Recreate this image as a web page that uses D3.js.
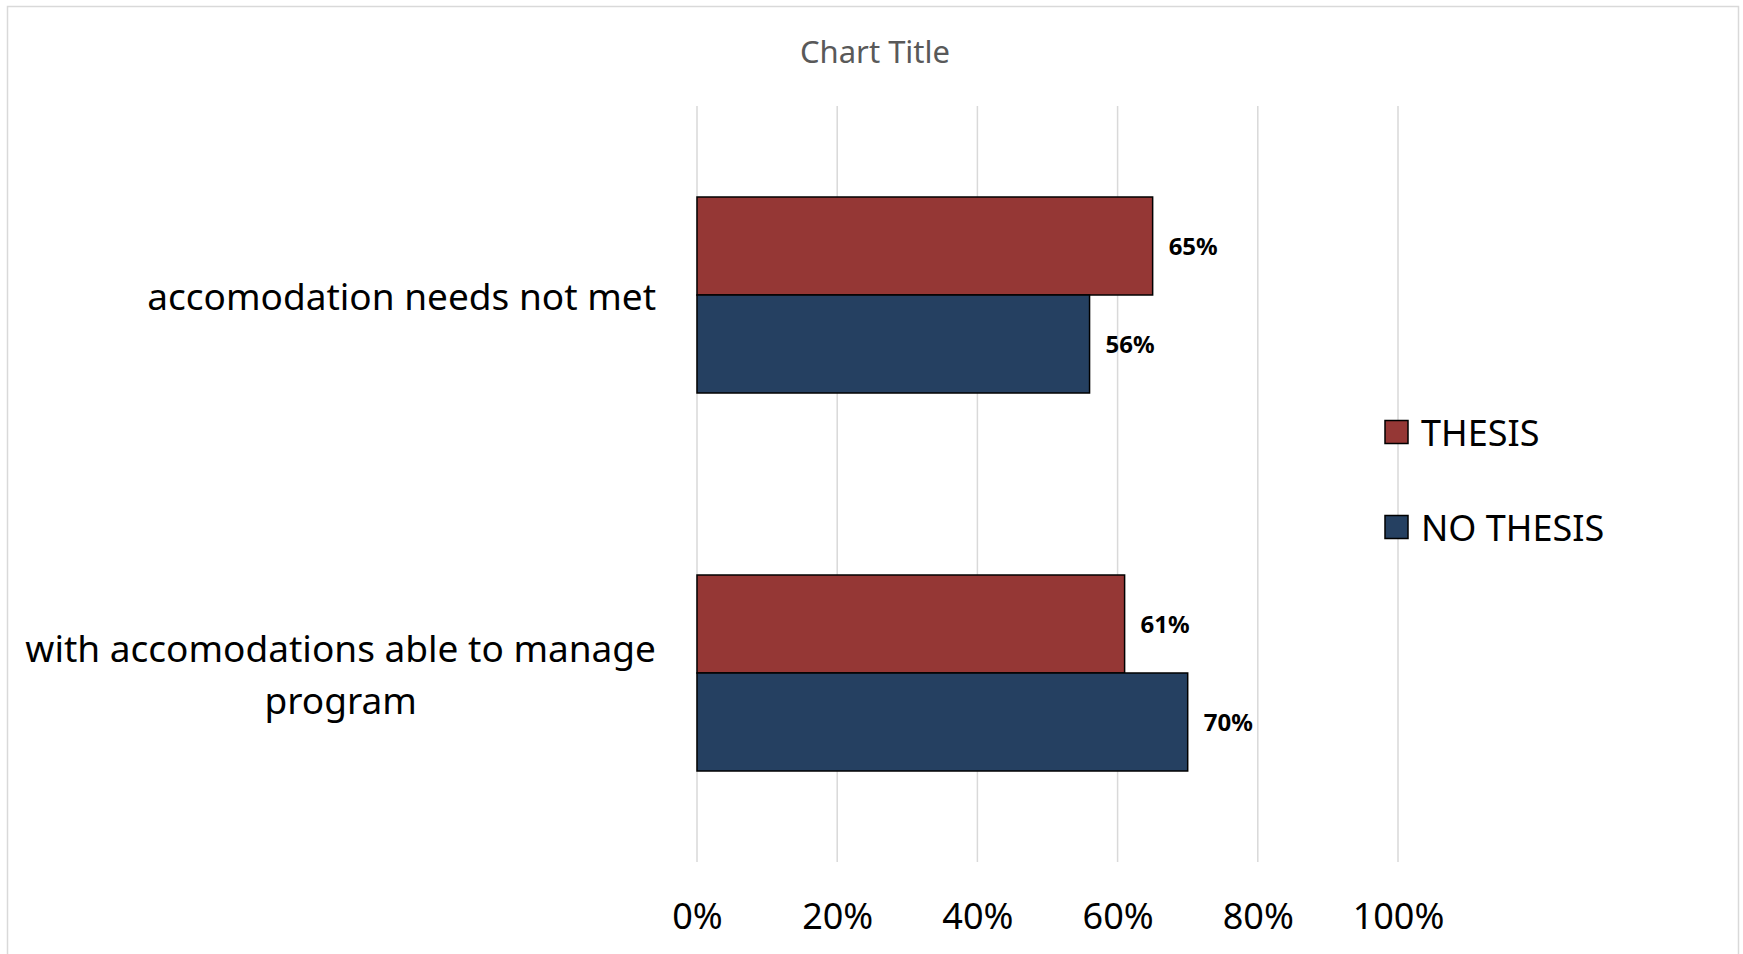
<!DOCTYPE html>
<html>
<head>
<meta charset="utf-8">
<script src="https://cdn.jsdelivr.net/npm/d3@7"></script>
<style>
  html, body { margin: 0; padding: 0; background: #fff; }
  svg { display: block; font-family: "Noto Sans", sans-serif; }
</style>
</head>
<body>
<div id="chart"></div>
<script>
// data
const categories = ["accomodation needs not met", "with accomodations able to manage program"];
const seriesNames = ["THESIS", "NO THESIS"];
const thesisValues = [0.65, 0.61];
const noThesisValues = [0.56, 0.70];
const tickValues = [0, 0.2, 0.4, 0.6, 0.8, 1.0];
const seriesColors = ["#953735", "#254061"];

document.addEventListener("DOMContentLoaded", function () {
  const svgWidth = 1743, svgHeight = 954;
  const plot = { left: 697, right: 1398, top: 106, bottom: 862 };

  const svg = d3.select("#chart")
    .append("svg")
    .attr("width", svgWidth)
    .attr("height", svgHeight);

  // outer frame
  svg.append("rect")
    .attr("x", 7.5).attr("y", 6.5)
    .attr("width", 1731).attr("height", 1000)
    .attr("fill", "#fff")
    .attr("stroke", "#d9d9d9")
    .attr("stroke-width", 1.5);

  // title
  svg.append("text")
    .attr("x", 875).attr("y", 51)
    .attr("text-anchor", "middle")
    .attr("dominant-baseline", "central")
    .attr("fill", "#595959")
    .style("font-size", "31px")
    .text("Chart Title");

  const x = d3.scaleLinear()
    .domain([0, 1])
    .range([plot.left, plot.right]);

  const y = d3.scaleBand()
    .domain(categories)
    .range([plot.top, plot.bottom])
    .paddingInner(0.4815)
    .paddingOuter(0.24075);

  const ySub = d3.scaleBand()
    .domain(seriesNames)
    .range([0, y.bandwidth()]);

  // gridlines
  svg.append("g")
    .selectAll("line")
    .data(tickValues)
    .join("line")
      .attr("x1", d => x(d)).attr("x2", d => x(d))
      .attr("y1", plot.top).attr("y2", plot.bottom)
      .attr("stroke", "#d9d9d9")
      .attr("stroke-width", 1.5);

  // x axis labels
  const xAxisG = svg.append("g")
    .attr("transform", `translate(0,${plot.bottom})`)
    .call(d3.axisBottom(x).tickValues(tickValues).tickFormat(d3.format(".0%")).tickSize(0).tickPadding(0));
  xAxisG.select(".domain").remove();
  xAxisG.selectAll("text")
    .attr("y", 54)
    .attr("dy", "0.35em")
    .attr("fill", "#000")
    .style("font-family", "'Noto Sans', sans-serif")
    .style("font-size", "36px");

  // bars
  const rows = categories.map((c, i) => ({
    category: c,
    values: [
      { series: seriesNames[0], value: thesisValues[i], color: seriesColors[0] },
      { series: seriesNames[1], value: noThesisValues[i], color: seriesColors[1] }
    ]
  }));

  const groups = svg.append("g")
    .selectAll("g")
    .data(rows)
    .join("g")
      .attr("transform", d => `translate(0,${y(d.category)})`);

  groups.selectAll("rect")
    .data(d => d.values)
    .join("rect")
      .attr("x", x(0))
      .attr("y", d => ySub(d.series))
      .attr("width", d => x(d.value) - x(0))
      .attr("height", ySub.bandwidth())
      .attr("fill", d => d.color)
      .attr("stroke", "#000")
      .attr("stroke-width", 1.5);

  groups.selectAll("text")
    .data(d => d.values)
    .join("text")
      .attr("x", d => x(d.value) + 16)
      .attr("y", d => ySub(d.series) + ySub.bandwidth() / 2)
      .attr("dominant-baseline", "central")
      .attr("fill", "#000")
      .style("font-size", "24px")
      .style("font-weight", "700")
      .text(d => d3.format(".0%")(d.value));

  // category labels, wrapped and centered as a block that ends left of the axis
  const labelRight = 656, maxWidth = 680, lineHeight = 52;
  categories.forEach(c => {
    const t = svg.append("text")
      .attr("fill", "#000")
      .attr("text-anchor", "middle")
      .style("font-size", "37px");
    const words = c.split(" ");
    const lines = [];
    let line = [];
    const probe = t.append("tspan");
    words.forEach(w => {
      line.push(w);
      probe.text(line.join(" "));
      if (probe.node().getComputedTextLength() > maxWidth && line.length > 1) {
        line.pop();
        lines.push(line.join(" "));
        line = [w];
      }
    });
    lines.push(line.join(" "));
    probe.remove();

    let widest = 0;
    const spans = lines.map(l => {
      const s = t.append("tspan").text(l);
      widest = Math.max(widest, s.node().getComputedTextLength());
      return s;
    });
    const cx = labelRight - widest / 2;
    const cy = y(c) + y.bandwidth() / 2;
    spans.forEach((s, i) => {
      s.attr("x", cx)
        .attr("y", cy + (i - (lines.length - 1) / 2) * lineHeight)
        .attr("dominant-baseline", "central");
    });
  });

  // legend
  const legend = svg.append("g")
    .selectAll("g")
    .data(seriesNames)
    .join("g")
      .attr("transform", (d, i) => `translate(1385,${432 + i * 95})`);

  legend.append("rect")
    .attr("x", 0).attr("y", -11.5)
    .attr("width", 23).attr("height", 23)
    .attr("fill", (d, i) => seriesColors[i])
    .attr("stroke", "#000")
    .attr("stroke-width", 1.5);

  legend.append("text")
    .attr("x", 36)
    .attr("y", 0)
    .attr("dominant-baseline", "central")
    .attr("fill", "#000")
    .style("font-size", "36px")
    .text(d => d);
});
</script>
</body>
</html>
